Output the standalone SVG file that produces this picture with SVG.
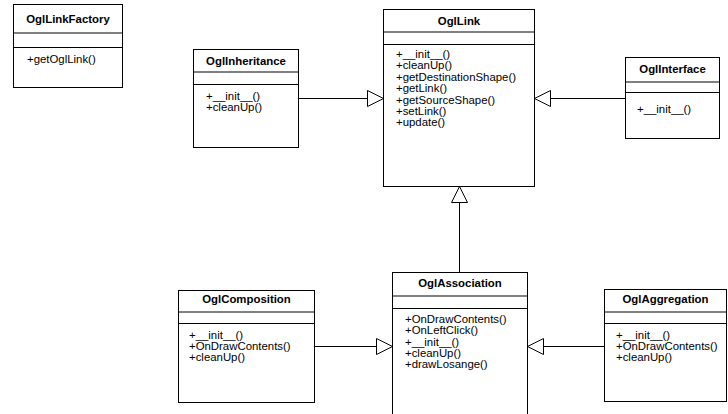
<svg xmlns="http://www.w3.org/2000/svg" width="728" height="414" viewBox="0 0 728 414">
  <defs>
    <style>
      .box { fill: #ffffff; stroke: #000000; stroke-width: 1; }
      .sep { stroke: #000000; stroke-width: 1; fill: none; }
      .title { font-family: "Liberation Sans", Arial, sans-serif; font-size: 11.4px; font-weight: bold; fill: #000000; text-anchor: middle; }
      .op { font-family: "Liberation Sans", Arial, sans-serif; font-size: 11.4px; fill: #000000; }
      .edge { stroke: #000000; stroke-width: 1; fill: none; }
      .head { fill: #ffffff; stroke: #000000; stroke-width: 1; }
    </style>
  </defs>
  <rect width="728" height="414" fill="#ffffff"/>

  <!-- connectors: generalisations with hollow triangle heads -->
  <g id="connectors">
    <!-- OglInheritance -> OglLink -->
    <line class="edge" x1="298" y1="98.5" x2="367" y2="98.5"/>
    <polygon class="head" points="383.5,98.5 367.5,90.5 367.5,106.5"/>
    <!-- OglInterface -> OglLink -->
    <line class="edge" x1="625" y1="98.5" x2="550" y2="98.5"/>
    <polygon class="head" points="534.5,98.5 550.5,90.5 550.5,106.5"/>
    <!-- OglAssociation -> OglLink -->
    <line class="edge" x1="459.5" y1="272" x2="459.5" y2="202"/>
    <polygon class="head" points="459.5,186.5 451.5,202.5 467.5,202.5"/>
    <!-- OglComposition -> OglAssociation -->
    <line class="edge" x1="314" y1="346.5" x2="376" y2="346.5"/>
    <polygon class="head" points="392.5,346.5 376.5,338.5 376.5,354.5"/>
    <!-- OglAggregation -> OglAssociation -->
    <line class="edge" x1="604" y1="346.5" x2="543" y2="346.5"/>
    <polygon class="head" points="527.5,346.5 543.5,338.5 543.5,354.5"/>
  </g>

  <g id="OglLinkFactory">
    <rect class="box" x="13.5" y="4.5" width="109" height="83"/>
    <line class="sep" x1="13.5" y1="33" x2="122.5" y2="33"/>
    <line class="sep" x1="13.5" y1="47.5" x2="122.5" y2="47.5"/>
    <text class="title" x="68" y="23">OglLinkFactory</text>
    <text class="op" x="27" y="63">+getOglLink()</text>
  </g>

  <g id="OglInheritance">
    <rect class="box" x="193.5" y="49.5" width="105" height="98"/>
    <line class="sep" x1="193.5" y1="72" x2="298.5" y2="72"/>
    <line class="sep" x1="193.5" y1="84.5" x2="298.5" y2="84.5"/>
    <text class="title" x="246" y="65">OglInheritance</text>
    <text class="op" x="206" y="99.5">+__init__()</text>
    <text class="op" x="206" y="110.8">+cleanUp()</text>
  </g>

  <g id="OglLink">
    <rect class="box" x="383.5" y="9.5" width="151" height="177"/>
    <line class="sep" x1="383.5" y1="32" x2="534.5" y2="32"/>
    <line class="sep" x1="383.5" y1="44.5" x2="534.5" y2="44.5"/>
    <text class="title" x="459" y="25">OglLink</text>
    <text class="op" x="396" y="58">+__init__()</text>
    <text class="op" x="396" y="69.4">+cleanUp()</text>
    <text class="op" x="396" y="80.8">+getDestinationShape()</text>
    <text class="op" x="396" y="92.2">+getLink()</text>
    <text class="op" x="396" y="103.6">+getSourceShape()</text>
    <text class="op" x="396" y="115">+setLink()</text>
    <text class="op" x="396" y="126.4">+update()</text>
  </g>

  <g id="OglInterface">
    <rect class="box" x="625.5" y="57.5" width="94" height="81"/>
    <line class="sep" x1="625.5" y1="82" x2="719.5" y2="82"/>
    <line class="sep" x1="625.5" y1="92.5" x2="719.5" y2="92.5"/>
    <text class="title" x="672.5" y="73">OglInterface</text>
    <text class="op" x="637" y="113">+__init__()</text>
  </g>

  <g id="OglComposition">
    <rect class="box" x="178.5" y="290.5" width="136" height="112"/>
    <line class="sep" x1="178.5" y1="312" x2="314.5" y2="312"/>
    <line class="sep" x1="178.5" y1="323.5" x2="314.5" y2="323.5"/>
    <text class="title" x="246.5" y="303">OglComposition</text>
    <text class="op" x="189" y="338.5">+__init__()</text>
    <text class="op" x="189" y="349.8">+OnDrawContents()</text>
    <text class="op" x="189" y="361.1">+cleanUp()</text>
  </g>

  <g id="OglAssociation">
    <rect class="box" x="392.5" y="272.5" width="135" height="150"/>
    <line class="sep" x1="392.5" y1="296" x2="527.5" y2="296"/>
    <line class="sep" x1="392.5" y1="308.5" x2="527.5" y2="308.5"/>
    <text class="title" x="460" y="287">OglAssociation</text>
    <text class="op" x="405" y="323">+OnDrawContents()</text>
    <text class="op" x="405" y="334.3">+OnLeftClick()</text>
    <text class="op" x="405" y="345.6">+__init__()</text>
    <text class="op" x="405" y="356.9">+cleanUp()</text>
    <text class="op" x="405" y="368.2">+drawLosange()</text>
  </g>

  <g id="OglAggregation">
    <rect class="box" x="604.5" y="289.5" width="122" height="112"/>
    <line class="sep" x1="604.5" y1="312" x2="726.5" y2="312"/>
    <line class="sep" x1="604.5" y1="323.5" x2="726.5" y2="323.5"/>
    <text class="title" x="665.5" y="303">OglAggregation</text>
    <text class="op" x="616" y="338.5">+__init__()</text>
    <text class="op" x="616" y="349.8">+OnDrawContents()</text>
    <text class="op" x="616" y="361.1">+cleanUp()</text>
  </g>
</svg>
